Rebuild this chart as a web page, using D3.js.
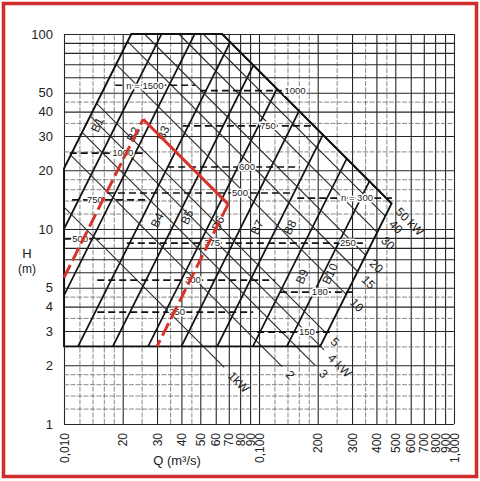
<!DOCTYPE html>
<html>
<head>
<meta charset="utf-8">
<script src="https://cdn.jsdelivr.net/npm/d3@7"></script>
<style>
  html, body { margin: 0; padding: 0; background: #fff; }
  svg { display: block; font-family: "Liberation Sans", Arial, sans-serif; }
</style>
</head>
<body>
<div id="chart"></div>
<script>
// axis ticks
const xTicks = [0.01, 0.02, 0.03, 0.04, 0.05, 0.06, 0.07, 0.08, 0.09, 0.1, 0.2, 0.3, 0.4, 0.5, 0.6, 0.7, 0.8, 0.9, 1];
const xTickLabels = ["0,010", "20", "30", "40", "50", "60", "70", "80", "90", "0,100", "200", "300", "400", "500", "600", "700", "800", "900", "1,000"];
const yTicks = [1, 2, 3, 4, 5, 10, 20, 30, 40, 50, 100];
const gridSteps = [1, 1.2, 1.4, 1.6, 1.8, 2, 2.5, 3, 3.5, 4, 4.5, 5, 6, 7, 8, 9];

// runner width lines B (H ~ Q^2): Q at H = 2.5 m
const bLineQ = [0.0035, 0.0050, 0.0074, 0.0118, 0.0178, 0.027, 0.040, 0.061, 0.093, 0.139, 0.206];
const bLabels = ["B1", "B2", "B3", "B4", "B5", "B6", "B7", "B8", "B9", "B10"];
const bLabelQ = [0.0148, 0.0226, 0.0322, 0.0300, 0.0427, 0.0616, 0.0978, 0.144, 0.166, 0.231];
const bLabelH = [34.2, 30.6, 31, 11.1, 11.5, 10.7, 10.2, 10.2, 5.7, 5.9];

// power lines (kW), P = KW_PER_QH * Q * H
const KW_PER_QH = 7.73;
const kwValues = [1, 2, 3, 4, 5, 10, 15, 20, 30, 40, 50];
const kwLabels = ["1kW", "2", "3", "4 kW", "5", "10", "15", "20", "30", "40", "50 kW"];
const kwEndH = [1.95, 1.97, 2.0, 2.4, null, null, null, null, null, null, null];

// speed lines n (rpm), dashed
const rpmLabels = ["n = 1500", "1000", "750", "600", "1000", "500", "n = 300", "750", "500", "375", "250", "300", "180", "250", "150"];
const rpmH = [54.6, 51.2, 33.8, 20.8, 24.5, 15.3, 14.4, 14.1, 8.9, 8.46, 8.46, 5.47, 4.75, 3.75, 2.96];
const rpmQFrom = [0.0183, 0.0498, 0.0407, 0.0338, 0.0107, 0.0166, 0.157, 0.0110, 0.0100, 0.0210, 0.0752, 0.0148, 0.128, 0.0148, 0.0978];
const rpmQTo = [0.047, 0.131, 0.194, 0.162, 0.0266, 0.15, 0.48, 0.0266, 0.0153, 0.0738, 0.357, 0.121, 0.317, 0.0933, 0.231];
const rpmLabelQ = [0.026, 0.153, 0.111, 0.0868, 0.020, 0.0799, 0.318, 0.0144, 0.0121, 0.0575, 0.2855, 0.0458, 0.205, 0.038, 0.176];

// red operating range
const redQ0 = [0.00666, 0.030];
const redKW = 7.2;

const envBottomH = 2.5, envTopH = 100, envMaxKW = 50;

const margin = { top: 34, right: 26, bottom: 57, left: 64 };
const w = 390, h = 390;

const svg = d3.select("#chart").append("svg")
    .attr("width", 480)
    .attr("height", 481);

svg.append("rect").attr("width", 480).attr("height", 481).attr("fill", "#fff");

const g = svg.append("g")
    .attr("transform", `translate(${margin.left}, ${margin.top})`);

const x = d3.scaleLog().domain([0.01, 1]).range([0, w]);
const y = d3.scaleLog().domain([1, 100]).range([h, 0]);
const line = d3.line().x(d => x(d[0])).y(d => y(d[1]));

const isMajor = d => {
    const m = d / Math.pow(10, Math.floor(Math.log10(d) + 1e-9));
    return Math.abs(m - Math.round(m)) < 1e-6;
};

// grid
const gridQ = [0.01, 0.1].flatMap(dec => gridSteps.map(s => s * dec)).concat([1]);
const gridH = [1, 10].flatMap(dec => gridSteps.map(s => s * dec)).concat([100]);

g.append("g")
    .attr("transform", `translate(0, ${h})`)
    .call(d3.axisBottom(x).tickValues(gridQ).tickSize(-h).tickFormat(""))
    .call(a => a.select(".domain").remove())
    .selectAll("line")
    .attr("stroke", d => isMajor(d) ? "#262626" : "#6a6a6a")
    .attr("stroke-width", d => isMajor(d) ? 1.1 : 0.8)
    .attr("stroke-dasharray", d => isMajor(d) ? null : "5,1.5");

g.append("g")
    .call(d3.axisLeft(y).tickValues(gridH).tickSize(-w).tickFormat(""))
    .call(a => a.select(".domain").remove())
    .selectAll("line")
    .attr("stroke", d => isMajor(d) ? "#262626" : "#6a6a6a")
    .attr("stroke-width", d => isMajor(d) ? 1.1 : 0.8)
    .attr("stroke-dasharray", d => isMajor(d) ? null : "5,1.5");

// tick labels
const xAxis = g.append("g")
    .attr("transform", `translate(0, ${h})`)
    .call(d3.axisBottom(x).tickValues(xTicks).tickSize(0).tickFormat((d, i) => xTickLabels[i]));
xAxis.select(".domain").remove();
xAxis.selectAll("text")
    .attr("transform", "rotate(-90)")
    .attr("text-anchor", "end")
    .attr("x", -9)
    .attr("y", 0)
    .attr("dy", "0.35em")
    .attr("font-size", 12)
    .attr("font-family", "Liberation Sans, Arial, sans-serif")
    .attr("fill", "#222");

const yAxis = g.append("g")
    .call(d3.axisLeft(y).tickValues(yTicks).tickSize(0).tickPadding(11).tickFormat(d3.format("d")));
yAxis.select(".domain").remove();
yAxis.selectAll("text")
    .attr("font-size", 13)
    .attr("font-family", "Liberation Sans, Arial, sans-serif")
    .attr("fill", "#222");

svg.append("text").attr("x", 27).attr("y", 258).attr("text-anchor", "middle")
    .attr("font-size", 13).attr("fill", "#222").text("H");
svg.append("text").attr("x", 27).attr("y", 273).attr("text-anchor", "middle")
    .attr("font-size", 12).attr("fill", "#222").text("(m)");
svg.append("text").attr("x", 177).attr("y", 465).attr("text-anchor", "middle")
    .attr("font-size", 13).attr("fill", "#222").text("Q (m³/s)");

// helpers
const bQ = (q0, H) => q0 * Math.sqrt(H / envBottomH);
const bH = (q0, Q) => envBottomH * Math.pow(Q / q0, 2);
const powerMeetsB = (c, q0) => {
    const q = Math.cbrt(c * q0 * q0 / envBottomH);
    return [q, c / q];
};

// envelope
const c50 = envMaxKW / KW_PER_QH;
const qL = bLineQ[0], qR = bLineQ[bLineQ.length - 1];
const envPts = [
    [0.01, envBottomH],
    [0.01, bH(qL, 0.01)],
    [bQ(qL, envTopH), envTopH],
    [c50 / envTopH, envTopH],
    powerMeetsB(c50, qR),
    [qR, envBottomH]
];

g.append("clipPath").attr("id", "env")
    .append("path").attr("d", line(envPts) + "Z");

// B lines
g.append("g").attr("clip-path", "url(#env)")
    .selectAll("path")
    .data(bLineQ.slice(1, -1))
    .join("path")
    .attr("d", q0 => line([[bQ(q0, 1), 1], [bQ(q0, 100), 100]]))
    .attr("fill", "none")
    .attr("stroke", "#111")
    .attr("stroke-width", 1.7);

// kW lines
const kwGroup = g.append("g");
kwValues.forEach((kw, i) => {
    const c = kw / KW_PER_QH;
    const q1 = Math.max(0.01, powerMeetsB(c, qL)[0], c / envTopH);
    const end = kwEndH[i] ? [c / kwEndH[i], kwEndH[i]] : powerMeetsB(c, qR);
    kwGroup.append("path")
        .attr("d", line([[q1, c / q1], end]))
        .attr("fill", "none")
        .attr("stroke", "#2a2a2a")
        .attr("stroke-width", kw === 50 ? 1.7 : 1.1);
    const ex = x(end[0]) + 6, ey = y(end[1]) + 6;
    kwGroup.append("text")
        .attr("transform", `translate(${ex}, ${ey}) rotate(45)`)
        .attr("dy", "0.35em")
        .attr("font-size", 12)
        .attr("fill", "#222")
        .text(kwLabels[i]);
});

// envelope outline
g.append("path")
    .attr("d", line(envPts) + "Z")
    .attr("fill", "none")
    .attr("stroke", "#111")
    .attr("stroke-width", 1.9);

// rpm dashed lines
const rpm = g.append("g");
rpmLabels.forEach((lab, i) => {
    rpm.append("path")
        .attr("d", line([[rpmQFrom[i], rpmH[i]], [rpmQTo[i], rpmH[i]]]))
        .attr("stroke", "#111")
        .attr("stroke-width", 1.7)
        .attr("stroke-dasharray", "7,4");
    rpm.append("text")
        .attr("x", x(rpmLabelQ[i]))
        .attr("y", y(rpmH[i]))
        .attr("dy", "0.35em")
        .attr("text-anchor", "middle")
        .attr("font-size", 9.5)
        .attr("fill", "#222")
        .attr("stroke", "#fff")
        .attr("stroke-width", 3)
        .attr("paint-order", "stroke")
        .text(lab);
});

// B labels
g.append("g").selectAll("text")
    .data(bLabels)
    .join("text")
    .attr("transform", (d, i) => `translate(${x(bLabelQ[i])}, ${y(bLabelH[i])}) rotate(-65)`)
    .attr("text-anchor", "middle")
    .attr("dy", "0.35em")
    .attr("font-size", 12)
    .attr("fill", "#222")
    .text(d => d);

// red operating range
const cRed = redKW / KW_PER_QH;
const apex = powerMeetsB(cRed, redQ0[0]);
const corner = powerMeetsB(cRed, redQ0[1]);
const red = g.append("g").attr("fill", "none").attr("stroke", "#d8332a").attr("stroke-width", 3);
red.append("path")
    .attr("d", line([[0.01, bH(redQ0[0], 0.01)], apex]))
    .attr("stroke-dasharray", "14,5");
red.append("path")
    .attr("d", line([apex, corner]));
red.append("path")
    .attr("d", line([corner, [redQ0[1], envBottomH]]))
    .attr("stroke-dasharray", "14,5");

// frame
svg.append("rect")
    .attr("x", 3.5).attr("y", 3.5)
    .attr("width", 473).attr("height", 473)
    .attr("fill", "none")
    .attr("stroke", "#cf2e2e")
    .attr("stroke-width", 3.5);
</script>
</body>
</html>
